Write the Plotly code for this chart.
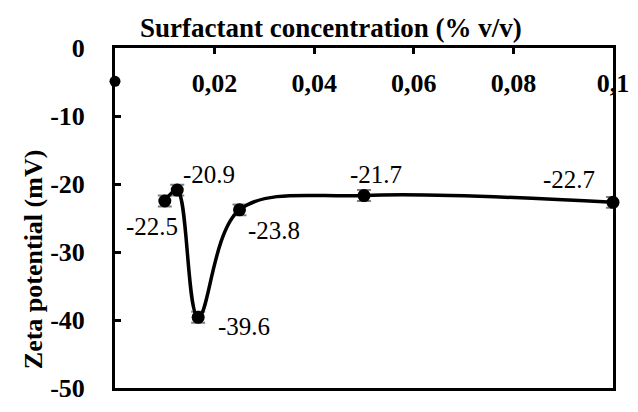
import plotly.graph_objects as go

conc = [0.01, 0.0125, 0.0167, 0.025, 0.05, 0.1]
zeta = [-22.5, -20.9, -39.6, -23.8, -21.7, -22.7]
zeta_err = [0.8, 0.8, 0.8, 0.8, 0.8, 0.8]
labels = ["-22.5", "-20.9", "-39.6", "-23.8", "-21.7", "-22.7"]
zero_x = [0.0]
zero_y = [-4.9]

x_ticks = [0.02, 0.04, 0.06, 0.08, 0.1]
x_ticktext = ["<b>0,02</b>", "<b>0,04</b>", "<b>0,06</b>", "<b>0,08</b>", "<b>0,1</b>"]
y_ticks = [0, -10, -20, -30, -40, -50]
y_ticktext = ["<b>0</b>", "<b>-10</b>", "<b>-20</b>", "<b>-30</b>", "<b>-40</b>", "<b>-50</b>"]

# label offsets in pixels (style only)
label_shift = [(-13, -25), (32, 16), (46, -9), (34, -21), (12, 21), (-44, 23)]

serif = "Liberation Serif"

fig = go.Figure()
fig.add_trace(go.Scatter(
    x=conc, y=zeta, mode="lines+markers",
    line=dict(color="black", width=3.5, shape="spline", smoothing=1.0),
    marker=dict(color="black", size=13),
    error_y=dict(type="data", array=zeta_err, color="#808080", thickness=2, width=7),
    cliponaxis=False, showlegend=False,
))
fig.add_trace(go.Scatter(
    x=zero_x, y=zero_y, mode="markers",
    marker=dict(color="black", size=11, symbol="circle"),
    cliponaxis=False, showlegend=False,
))

annotations = []
for xv, yv, t, (dx, dy) in zip(conc, zeta, labels, label_shift):
    annotations.append(dict(x=xv, y=yv, xref="x", yref="y", text=t, showarrow=False,
                            xshift=dx, yshift=dy, xanchor="center", yanchor="middle",
                            font=dict(family=serif, size=25, color="black")))

annotations += [
    dict(text="<b>Surfactant concentration (% v/v)</b>", xref="paper", yref="paper",
         x=(335 - 115) / 507, y=1 + (48 - 27) / 355, xanchor="center", yanchor="middle",
         showarrow=False, font=dict(family=serif, size=27, color="black")),
    dict(text="<b>Zeta potential (mV)</b>", xref="paper", yref="paper",
         x=(32 - 115) / 507, y=(403 - 268) / 355, xanchor="center", yanchor="middle",
         textangle=-90, showarrow=False, font=dict(family=serif, size=26, color="black")),
]

fig.update_layout(
    width=630, height=404,
    margin=dict(l=107, r=16, t=40, b=9),
    paper_bgcolor="white", plot_bgcolor="white",
    font=dict(family=serif, color="black"),
    xaxis=dict(
        side="top", range=[0, 0.1], tickvals=x_ticks, ticktext=x_ticktext,
        ticklabelposition="inside", ticklabeloverflow="allow", ticklabelstandoff=22,
        ticks="inside", ticklen=6, tickwidth=3, tickcolor="black",
        showline=True, linewidth=3, linecolor="black", mirror=True,
        showgrid=False, zeroline=False,
        tickfont=dict(family=serif, size=26, color="black"),
    ),
    yaxis=dict(
        range=[-50, 0], tickvals=y_ticks, ticktext=y_ticktext,
        ticklabeloverflow="allow",
        ticks="inside", ticklen=6, tickwidth=3, tickcolor="black",
        showline=True, linewidth=3, linecolor="black", mirror=True,
        showgrid=False, zeroline=False, ticklabelstandoff=22,
        tickfont=dict(family=serif, size=26, color="black"),
    ),
    annotations=annotations,
)

fig.write_html("out.html")
